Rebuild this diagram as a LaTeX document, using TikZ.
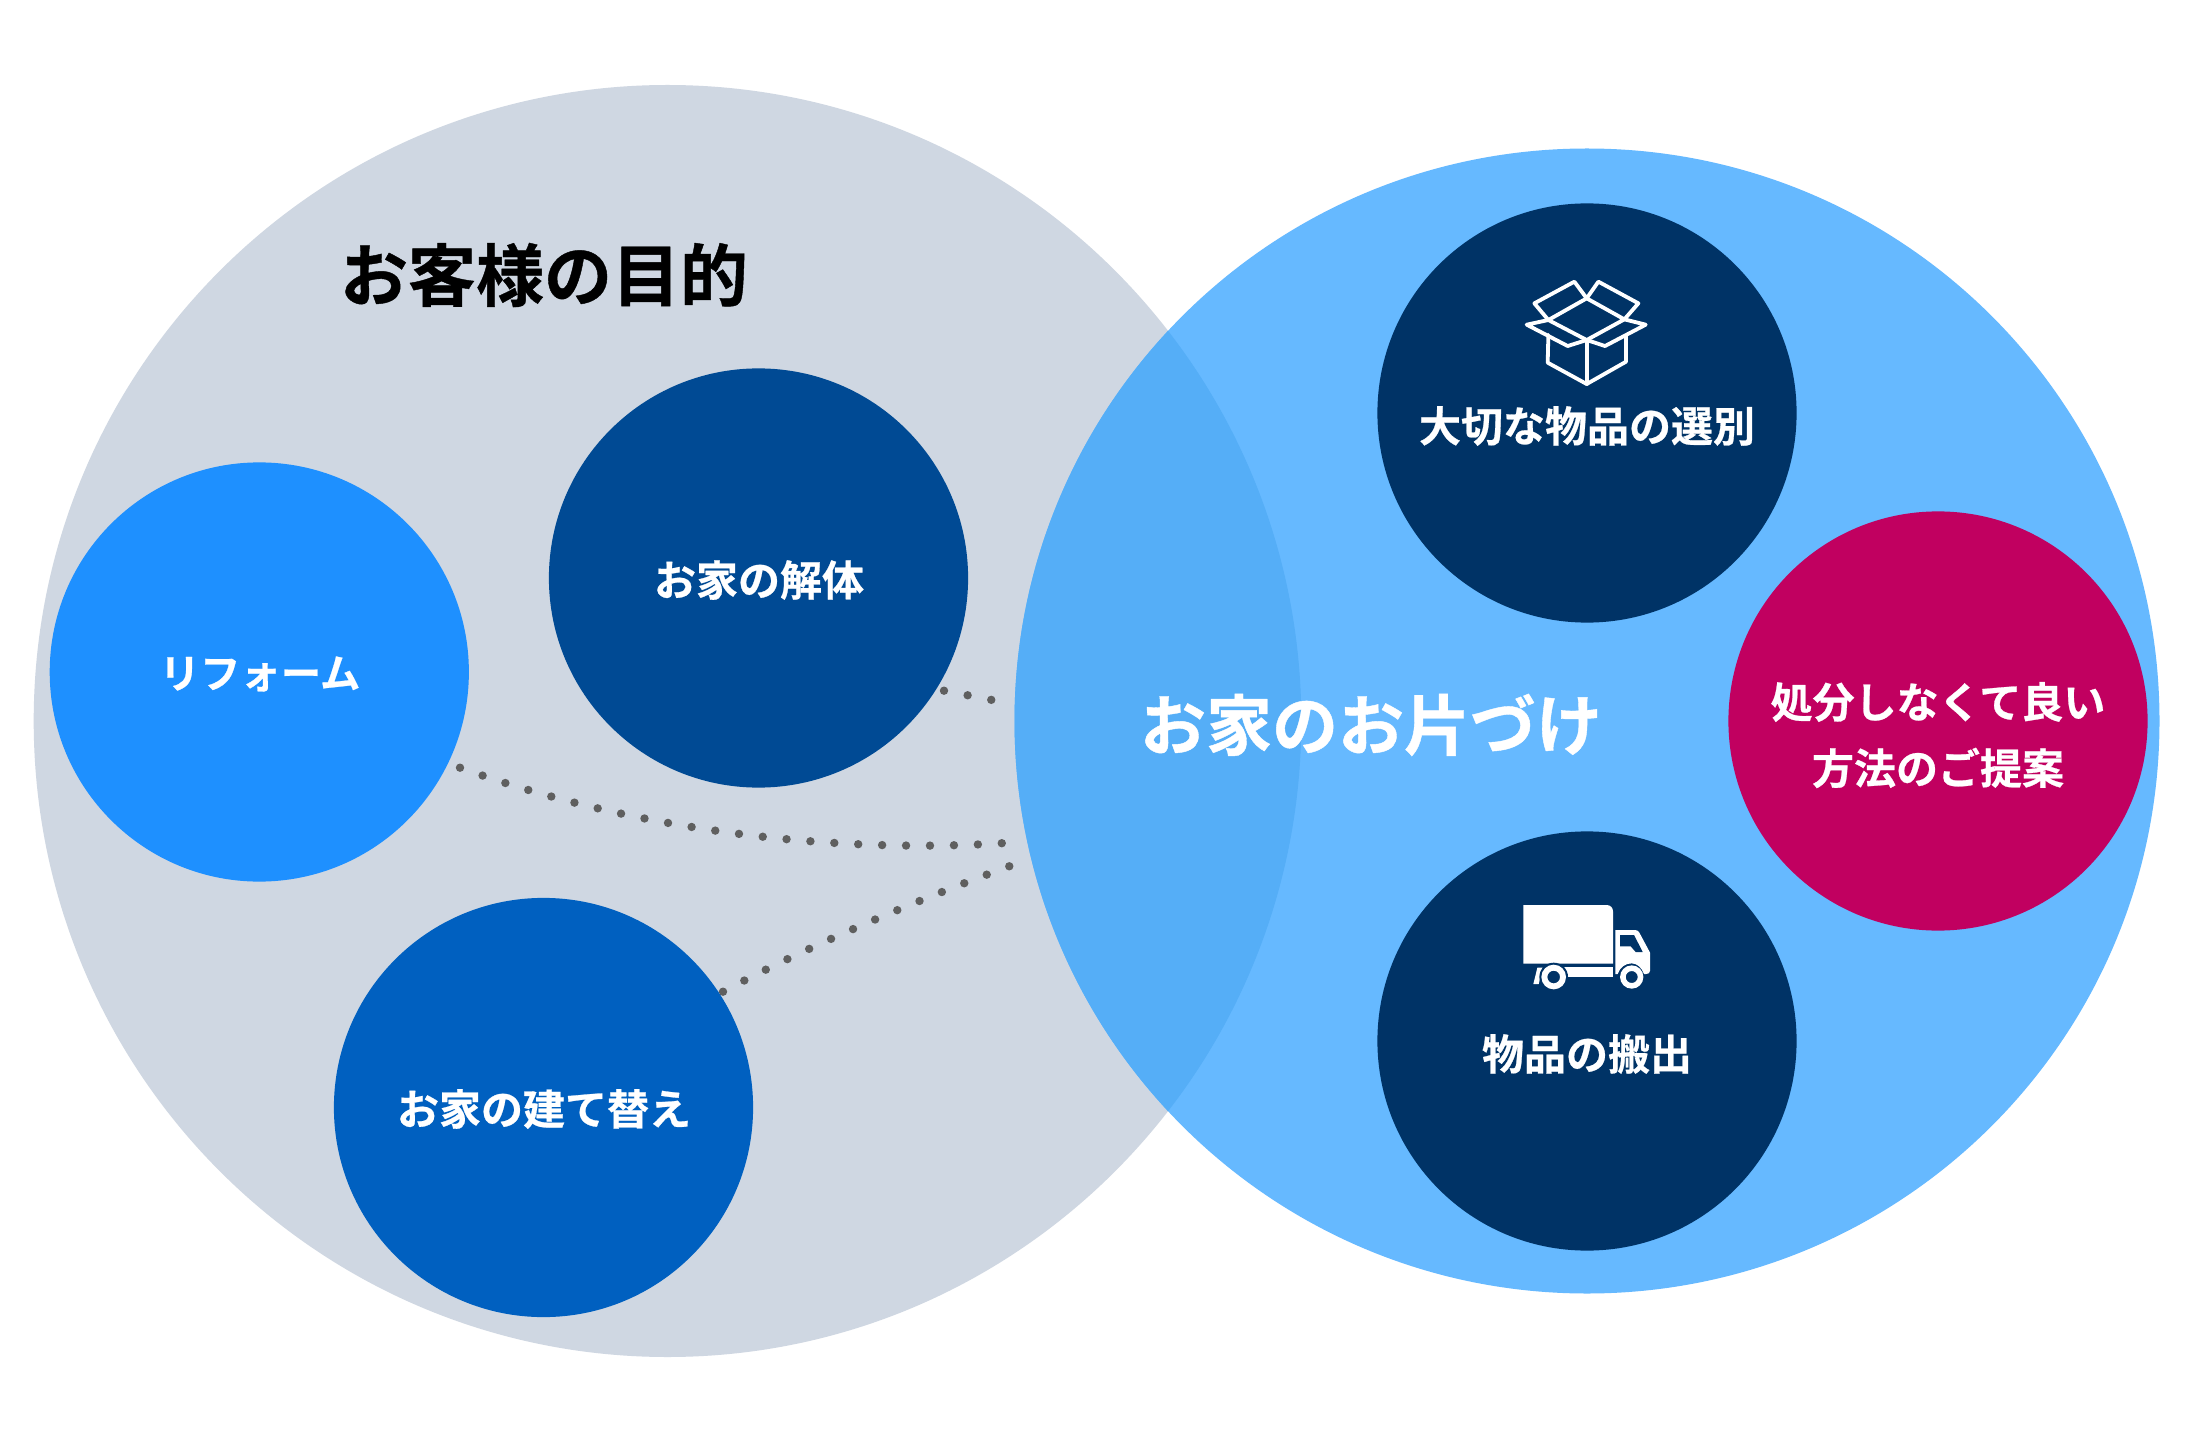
\documentclass[tikz,border=0pt]{standalone}
\usepackage{fontspec}
\usetikzlibrary{shapes.geometric}
\setmainfont{Noto Sans CJK JP}[BoldFont={Noto Sans CJK JP Bold}]
\newfontfamily\jpb{Noto Sans CJK JP Bold}[FakeBold=0.6]
\definecolor{bigL}{HTML}{CFD7E2}
\definecolor{bigR}{HTML}{66B9FF}
\definecolor{overlapc}{HTML}{55AEF7}
\definecolor{c1}{HTML}{1E90FF}
\definecolor{c2}{HTML}{004A94}
\definecolor{c3}{HTML}{0060C0}
\definecolor{c4}{HTML}{003366}
\definecolor{c5}{HTML}{C10060}
\definecolor{dotc}{HTML}{5F5F5F}
\tikzset{
  x=0.5pt,y=-0.5pt,
  small/.style={circle,minimum size=209.6pt,inner sep=0pt,draw=none,fill=#1},
  lbl/.style={text=white,font=\jpb\fontsize{21}{26}\selectfont,inner sep=0pt,align=center},
  big/.style={text=white,font=\jpb\fontsize{33}{40}\selectfont,inner sep=0pt},
  dots/.style={draw=dotc,line width=4.2pt,line cap=round,dash pattern=on 0pt off 12.03pt},
  iconline/.style={draw=white,line width=1.9pt,line join=round,line cap=round}
}
\begin{document}
\begin{tikzpicture}
\useasboundingbox (0,0) rectangle (2194,1454);
\fill[white] (0,0) rectangle (2194,1454);
\node[ellipse,minimum width=633.8pt,minimum height=636pt,inner sep=0pt,fill=bigL] (L) at (667.5,721) {};
\node[circle,minimum size=572.5pt,inner sep=0pt,fill=bigR] (R) at (1587,721) {};
\begin{scope}
  \clip (667.5,721) ellipse[x radius=633.8,y radius=636];
  \fill[overlapc] (1587,721) circle[radius=572.5];
\end{scope}
\coordinate (e1) at (992,700);
\coordinate (e2) at (1005,843);
\coordinate (e3) at (1010,866);
\coordinate (s1) at (944,690.7);
\coordinate (s2) at (460,767.7);
\coordinate (s3) at (723,991.7);
\draw[dots] (s1) -- (e1);
\draw[dots,dash pattern=on 0pt off 11.97pt] (s2) .. controls (650,836) and (850,853) .. (e2);
\draw[dots] (s3) .. controls (810,945) and (920,899) .. (e3);
\node[small=c1] (a) at (259.3,672) {};
\node[small=c2] (b) at (758.5,578) {};
\node[small=c3] (c) at (543.5,1107.5) {};
\node[small=c4] (d) at (1587,413) {};
\node[small=c5] (e) at (1938,721) {};
\node[small=c4] (f) at (1587,1041) {};
\node[text=black,font=\jpb\fontsize{34}{40}\selectfont,inner sep=0pt] (title) at (544,275) {お客様の目的};
\node[big] (main) at (1371,725) {お家のお片づけ};
\node[lbl,font=\jpb\fontsize{20.2}{26}\selectfont] (ta) at (260,674) {リフォーム};
\node[lbl] (tb) at (759,580) {お家の解体};
\node[lbl] (tc) at (544,1109) {お家の建て替え};
\node[lbl] (td) at (1587,426) {大切な物品の選別};
\node[lbl] (te1) at (1938,702) {処分しなくて良い};
\node[lbl] (te2) at (1938,768) {方法のご提案};
\node[lbl] (tf) at (1587,1054) {物品の搬出};
% box icon
\begin{scope}[shift={(1480,250)},x=0.1667pt,y=-0.1667pt]
  \draw[iconline] (320,145) -- (205,210) -- (320,270) -- (433,208) -- cycle;
  \draw[iconline] (205,210) -- (163,160) -- (283,95) -- (320,145) -- (355,95) -- (475,160) -- (433,208);
  \draw[iconline] (205,210) -- (140,224) -- (263,288) -- (320,270) -- (375,288) -- (497,224) -- (433,208);
  \draw[iconline] (205,255) -- (203,338) -- (320,402) -- (438,335) -- (438,258);
  \draw[iconline] (320,270) -- (320,402);
\end{scope}
% truck icon
\begin{scope}[shift={(1480,880)},x=0.1667pt,y=-0.1667pt]
  \fill[white] (130,75) -- (380,75) .. controls (392,75) and (399,84) .. (399,95) -- (399,251) -- (130,251) -- cycle;
  \fill[white] (250,262) -- (399,262) -- (399,291) -- (250,291) -- cycle;
  \fill[white] (172,263) -- (188,263) -- (176,312) -- (160,312) -- cycle;
  \fill[c4] (221,291) circle[radius=43];
  \fill[white,even odd rule] (221,291) circle[radius=37] (221,291) circle[radius=19];
  \fill[white] (406,150) -- (465,150) .. controls (472,150) and (475,153) .. (478,158) -- (510,218) -- (510,272) .. controls (510,279) and (505,282) .. (498,282) -- (492,282) .. controls (485,262) and (470,250) .. (455,250) .. controls (435,250) and (420,262) .. (413,282) -- (406,282) -- cycle;
  \fill[c4] (420,165) -- (462,165) -- (488,216) -- (467,216) -- (452,199) -- (420,199) -- cycle;
  \fill[white,even odd rule] (455,291) circle[radius=35] (455,291) circle[radius=18];
\end{scope}
\end{tikzpicture}
\end{document}
